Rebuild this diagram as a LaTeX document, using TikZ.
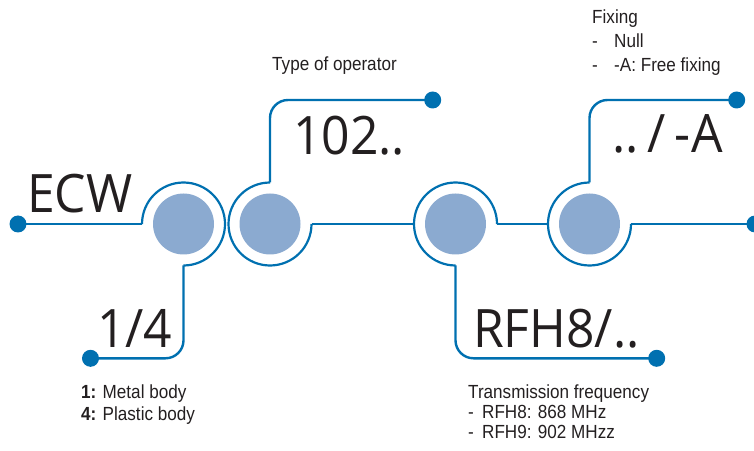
\documentclass[tikz,border=0pt]{standalone}
\usepackage{fontspec}
\setmainfont{Open Sans}
\newfontfamily\bigfont[FakeStretch=0.94]{Open Sans}
\newfontfamily\condfont[FakeStretch=0.9]{Liberation Sans}
\definecolor{lineblue}{RGB}{0,112,176}
\definecolor{discfill}{RGB}{139,170,208}
\definecolor{txt}{RGB}{35,31,32}
\begin{document}
\begin{tikzpicture}[x=1pt,y=1pt,
  conn/.style={draw=lineblue,line width=2.4pt},
  ring/.style={draw=lineblue,line width=2.2pt},
  elbow/.style={conn,rounded corners=18pt},
  enddot/.style={circle,fill=lineblue,inner sep=0pt,minimum size=17pt},
  disc/.style={circle,fill=discfill,inner sep=0pt,minimum size=61pt},
  big/.style={font=\bigfont\fontsize{53}{60}\selectfont,text=txt,inner sep=0pt,anchor=base west},
  small/.style={font=\condfont\fontsize{19}{22}\selectfont,text=txt,inner sep=0pt,anchor=base west}]
\useasboundingbox (0,0) rectangle (754,450);
% discs
\node[disc] (c1) at (183.5,226) {};
\node[disc] (c2) at (270,226) {};
\node[disc] (c3) at (455.5,226) {};
\node[disc] (c4) at (589.5,226) {};
% end dots
\node[enddot] (d1) at (18,226) {};
\node[enddot] (d2) at (90.5,91.7) {};
\node[enddot] (d3) at (432.7,350) {};
\node[enddot] (d4) at (656.7,91.7) {};
\node[enddot] (d5) at (736.7,350) {};
\node[enddot] (d6) at (755,226) {};
% rings
\draw[ring] ([xshift=-41.5pt]c1.center) arc[start angle=180,end angle=-90,radius=41.5pt];
\draw[ring] ([yshift=41.5pt]c2.center) arc[start angle=90,end angle=360,radius=41.5pt];
\draw[ring] ([xshift=41.5pt]c3.center) arc[start angle=0,end angle=270,radius=41.5pt];
\draw[ring] ([yshift=41.5pt]c4.center) arc[start angle=90,end angle=360,radius=41.5pt];
% connectors
\draw[conn] (d1.center) -- ([xshift=-41.5pt]c1.center);
\draw[elbow] ([yshift=-41.5pt]c1.center) |- (d2.center);
\draw[elbow] ([yshift=41.5pt]c2.center) |- (d3.center);
\draw[conn] ([xshift=41.5pt]c2.center) -- ([xshift=-41.5pt]c3.center);
\draw[conn] ([xshift=41.5pt]c3.center) -- ([xshift=-41.5pt]c4.center);
\draw[elbow] ([yshift=-41.5pt]c3.center) |- (d4.center);
\draw[elbow] ([yshift=41.5pt]c4.center) |- (d5.center);
\draw[conn] ([xshift=41.5pt]c4.center) -- (d6.center);
% big labels
\node[big] (ecw) at (27,237) {ECW};
\node[big] (op) at (293,295) {102..};
\node[big] (body) at (97,103) {1/4};
\node[big] (freq) at (473,103) {RFH8/..};
\node[big] (fix) at (612,297) {..\hspace{9pt}/\hspace{9pt}-A};
% small labels
\node[small] (optitle) at (272,379) {Type of operator};
\node[small] (fixtitle) at (592,426) {Fixing};
\node[small] (fix1) at (592,402) {\makebox[22pt][l]{-}Null};
\node[small] (fix2) at (592,378) {\makebox[22pt][l]{-}-A: Free fixing};
\node[small] (body1) at (81,52) {\textbf{1:} Metal body};
\node[small] (body2) at (81,30) {\textbf{4:} Plastic body};
\node[small] (freqtitle) at (468,52) {Transmission frequency};
\node[small] (freq1) at (468,32) {\makebox[14pt][l]{-}RFH8: 868 MHz};
\node[small] (freq2) at (468,12) {\makebox[14pt][l]{-}RFH9: 902 MHzz};
\end{tikzpicture}
\end{document}
